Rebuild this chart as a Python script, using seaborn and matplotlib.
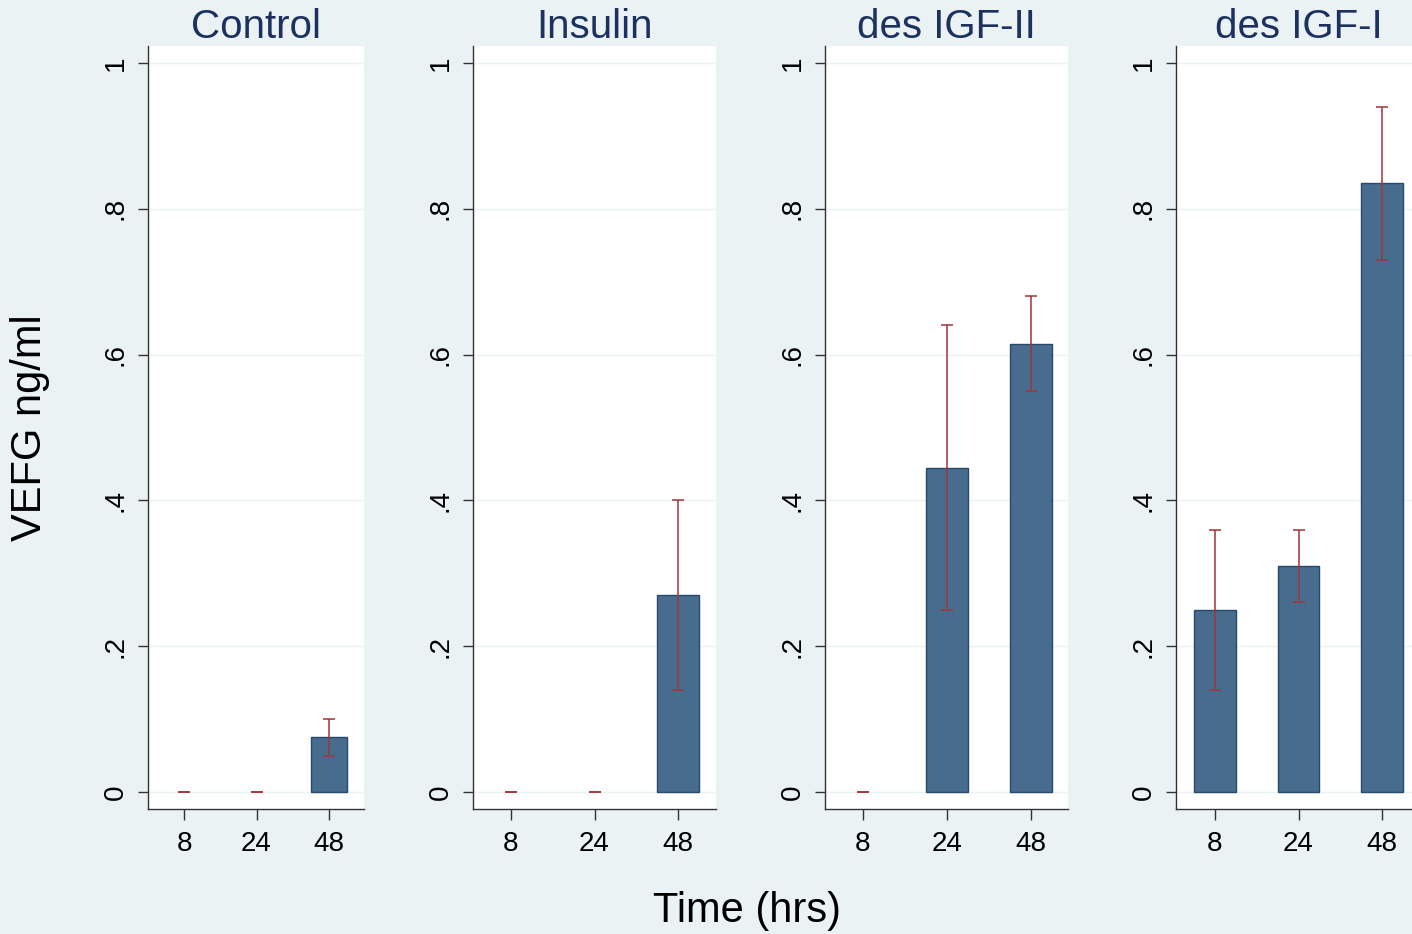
import pandas as pd
import matplotlib
matplotlib.use("Agg")
import matplotlib.pyplot as plt
import seaborn as sns

# data
groups = ["Control", "Insulin", "des IGF-II", "des IGF-I"]
times = ["8", "24", "48"]
means = {
    "Control":    [0.0, 0.0, 0.075],
    "Insulin":    [0.0, 0.0, 0.27],
    "des IGF-II": [0.0, 0.445, 0.615],
    "des IGF-I":  [0.25, 0.31, 0.835],
}
lower = {
    "Control":    [0.0, 0.0, 0.05],
    "Insulin":    [0.0, 0.0, 0.14],
    "des IGF-II": [0.0, 0.25, 0.55],
    "des IGF-I":  [0.14, 0.26, 0.73],
}
upper = {
    "Control":    [0.0, 0.0, 0.10],
    "Insulin":    [0.0, 0.0, 0.40],
    "des IGF-II": [0.0, 0.64, 0.68],
    "des IGF-I":  [0.36, 0.36, 0.94],
}
yticks = [0, 0.2, 0.4, 0.6, 0.8, 1.0]
ytick_labels = ["0", ".2", ".4", ".6", ".8", "1"]

rows = []
for g in groups:
    for i, t in enumerate(times):
        rows.append({"group": g, "time": t, "vegf": means[g][i],
                     "lo": lower[g][i], "hi": upper[g][i]})
df = pd.DataFrame(rows)

BG = "#EAF2F3"
BAR = "#486C8E"
BAR_EDGE = "#27496B"
ERR = "#A3333B"
TITLE = "#1C3160"

sns.set_theme(style="white")
plt.rcParams["font.family"] = ["Liberation Sans", "DejaVu Sans"]

W, H = 1412, 934
fig = plt.figure(figsize=(W / 100, H / 100), dpi=100, facecolor=BG)

# axes boxes in pixels: left, right, and pixel x of first / last tick
boxes = [(148, 364, 184, 329), (473, 716, 511, 678),
         (825, 1068, 863, 1031), (1176, 1421, 1215, 1382)]
top_px, bot_px = 46, 809
ymin, ymax = -0.0233, 1.0233

for g, (l, r, t0, t2) in zip(groups, boxes):
    ax = fig.add_axes([l / W, 1 - bot_px / H, (r - l) / W, (bot_px - top_px) / H])
    sub = df[df["group"] == g]
    sns.barplot(data=sub, x="time", y="vegf", order=times, errorbar=None,
                color=BAR, width=0.5, edgecolor=BAR_EDGE, linewidth=1.0,
                saturation=1, ax=ax)
    for p in ax.patches:
        if p.get_height() == 0:
            p.set_linewidth(0)
    xs = range(len(times))
    ax.errorbar(xs, sub["vegf"],
                yerr=[sub["vegf"] - sub["lo"], sub["hi"] - sub["vegf"]],
                fmt="none", ecolor=ERR, elinewidth=1.1, capsize=4,
                capthick=1.1, zorder=5)

    unit = (t2 - t0) / 2.0
    ax.set_xlim(-(t0 - l) / unit, 2 + (r - t2) / unit)
    ax.set_ylim(ymin, ymax)
    ax.set_yticks(yticks)
    ax.set_yticklabels(ytick_labels, rotation=90, va="center")
    ax.set_facecolor("white")
    ax.grid(axis="y", color=BG, linewidth=1)
    ax.set_axisbelow(True)
    for s in ["top", "right"]:
        ax.spines[s].set_visible(False)
    for s in ["left", "bottom"]:
        ax.spines[s].set_color("#333333")
        ax.spines[s].set_linewidth(1.0)
    ax.tick_params(axis="y", direction="out", length=7, width=1,
                   color="#333333", labelsize=20, labelcolor="black",
                   pad=7, left=True)
    ax.tick_params(axis="x", direction="out", length=8, width=1,
                   color="#333333", labelsize=20, labelcolor="black",
                   pad=8, bottom=True)
    ax.set_xlabel("")
    ax.set_ylabel("")
    ax.set_title(g, fontsize=29, color=TITLE, pad=6)

fig.text(30 / W, 1 - 428 / H, "VEFG ng/ml", rotation=90, fontsize=30,
         ha="center", va="center", color="black")
fig.text(747 / W, 1 - 911 / H, "Time (hrs)", fontsize=30,
         ha="center", va="center", color="black")

fig.savefig("out.png", dpi=100, facecolor=BG)
